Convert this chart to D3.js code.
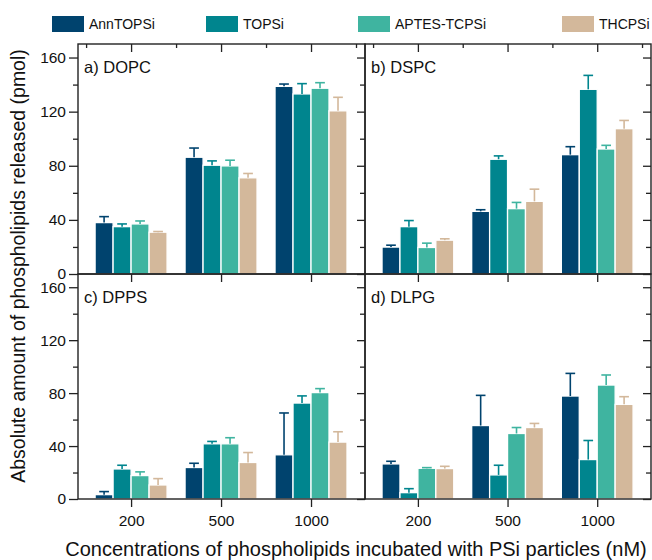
<!DOCTYPE html>
<html><head><meta charset="utf-8">
<script src="https://cdn.jsdelivr.net/npm/d3@7"></script>
<style>body{margin:0;background:#fff}svg{display:block}text{font-family:Arial,"Liberation Sans",sans-serif;fill:#111}</style>
</head><body><svg id="c" width="652" height="560"></svg>
<script>
const categories = ["200", "500", "1000"];
const seriesNames = ["AnnTOPSi", "TOPSi", "APTES-TCPSi", "THCPSi"];
const seriesColors = ["#00436e", "#00858e", "#3fb4a0", "#d3b89b"];
const panelTitles = ["a) DOPC", "b) DSPC", "c) DPPS", "d) DLPG"];
const yTickValues = [0, 40, 80, 120, 160];
const yMinorValues = [20, 60, 100, 140];

// means per series (rows) x concentration (cols)
const dopcMeans = [[38.0, 86.3, 138.7], [35.0, 80.4, 133.1], [37.0, 79.9, 137.3], [30.9, 71.1, 120.6]];
const dopcErrors = [[4.4, 6.8, 1.7], [2.0, 3.2, 7.6], [2.2, 4.2, 4.1], [0.5, 3.2, 10.0]];
const dspcMeans = [[19.9, 46.3, 88.2], [35.0, 84.8, 136.5], [19.6, 48.3, 92.4], [25.0, 53.7, 107.4]];
const dspcErrors = [[1.4, 1.2, 5.9], [4.5, 2.5, 10.3], [3.2, 4.6, 2.7], [1.0, 9.0, 6.1]];
const dppsMeans = [[3.3, 23.8, 33.4], [22.7, 41.7, 72.5], [17.7, 41.7, 80.4], [10.6, 27.6, 43.0]];
const dppsErrors = [[2.3, 3.2, 31.6], [2.8, 1.8, 5.4], [2.8, 4.6, 3.0], [4.8, 7.5, 7.8]];
const dlpgMeans = [[26.5, 55.5, 77.8], [4.8, 18.2, 29.8], [23.2, 49.5, 86.1], [23.0, 54.0, 71.5]];
const dlpgErrors = [[2.0, 22.8, 17.1], [3.0, 7.3, 14.4], [0.5, 4.5, 7.6], [1.7, 3.1, 5.8]];

const panelMeans = [dopcMeans, dspcMeans, dppsMeans, dlpgMeans];
const panelErrors = [dopcErrors, dspcErrors, dppsErrors, dlpgErrors];

const svg = d3.select("#c");
const L = 78, M = 365, R = 651, T = 44, MID = 274, B = 499;
const panels = [
  {x0: L, x1: M, y0: T, y1: MID, col: 0, row: 0},
  {x0: M, x1: R, y0: T, y1: MID, col: 1, row: 0},
  {x0: L, x1: M, y0: MID, y1: B, col: 0, row: 1},
  {x0: M, x1: R, y0: MID, y1: B, col: 1, row: 1}
];
const barW = 0.2;

panels.forEach((p, pi) => {
  const x = d3.scaleLinear().domain([0.41, 3.6]).range([p.x0, p.x1]);
  const y = d3.scaleLinear().domain([0, 170]).range([p.y1, p.y0]);
  const g = svg.append("g");
  const means = panelMeans[pi], errs = panelErrors[pi];
  const pxW = x(barW) - x(0);

  seriesNames.forEach((s, si) => {
    const col = seriesColors[si];
    categories.forEach((c, ci) => {
      const cx = x(ci + 1 + (si - 1.5) * barW);
      const v = means[si][ci], e = errs[si][ci];
      g.append("rect").attr("x", cx - pxW / 2).attr("width", pxW)
        .attr("y", y(v)).attr("height", y(0) - y(v))
        .attr("fill", col).attr("stroke", "#fff").attr("stroke-width", 1.3);
      g.append("line").attr("x1", cx).attr("x2", cx).attr("y1", y(v)).attr("y2", y(v + e))
        .attr("stroke", col).attr("stroke-width", 1.6);
      g.append("line").attr("x1", cx - pxW * 0.27).attr("x2", cx + pxW * 0.27)
        .attr("y1", y(v + e)).attr("y2", y(v + e))
        .attr("stroke", col).attr("stroke-width", 1.6);
    });
  });

  // frame
  g.append("rect").attr("x", p.x0).attr("y", p.y0).attr("width", p.x1 - p.x0).attr("height", p.y1 - p.y0)
    .attr("fill", "none").attr("stroke", "#222").attr("stroke-width", 1.4);

  // top ticks (inward)
  const topAx = d3.axisBottom(x).tickValues([1, 2, 3]).tickSize(8).tickFormat("");
  g.append("g").attr("transform", `translate(0,${p.y0})`).call(topAx)
    .call(a => a.select(".domain").remove());
  if (p.row === 0) {
    const topMinor = d3.axisBottom(x).tickValues([0.5, 1.5, 2.5, 3.5]).tickSize(4).tickFormat("");
    g.append("g").attr("transform", `translate(0,${p.y0})`).call(topMinor)
      .call(a => a.select(".domain").remove());
  }
  // bottom ticks (outward) + labels for lower row
  if (p.row === 1) {
    const botAx = d3.axisBottom(x).tickValues([1, 2, 3]).tickSize(8).tickPadding(8)
      .tickFormat((d) => categories[d - 1]);
    g.append("g").attr("transform", `translate(0,${p.y1})`).call(botAx)
      .call(a => a.select(".domain").remove())
      .call(a => a.selectAll("text").attr("font-size", 15.5).attr("fill", "#111")
        .style("font-family", "Arial, 'Liberation Sans', sans-serif"));
  }
  // left axis (outward with labels) for left column
  if (p.col === 0) {
    const la = d3.axisLeft(y).tickValues(yTickValues).tickSize(9).tickPadding(3);
    g.append("g").attr("transform", `translate(${p.x0},0)`).call(la)
      .call(a => a.select(".domain").remove())
      .call(a => a.selectAll("text").attr("font-size", 15.5).attr("fill", "#111")
        .style("font-family", "Arial, 'Liberation Sans', sans-serif"));
    const lm = d3.axisLeft(y).tickValues(yMinorValues).tickSize(5).tickFormat("");
    g.append("g").attr("transform", `translate(${p.x0},0)`).call(lm)
      .call(a => a.select(".domain").remove());
  }
  // right inward ticks
  const rMaj = d3.axisLeft(y).tickValues(yTickValues).tickSize(8).tickFormat("");
  const rMin = d3.axisLeft(y).tickValues(yMinorValues).tickSize(5).tickFormat("");
  g.append("g").attr("transform", `translate(${p.x1},0)`).call(rMaj).call(a => a.select(".domain").remove());
  g.append("g").attr("transform", `translate(${p.x1},0)`).call(rMin).call(a => a.select(".domain").remove());

  g.selectAll(".tick line").attr("stroke", "#222").attr("stroke-width", 1.3);

  g.append("text").attr("x", p.x0 + 6).attr("y", p.y0 + 29).attr("font-size", 16.5).text(panelTitles[pi]);
});

// legend
const legendX = [52, 206, 358, 562];
seriesNames.forEach((s, i) => {
  svg.append("rect").attr("x", legendX[i]).attr("y", 16).attr("width", 32).attr("height", 16)
    .attr("fill", seriesColors[i]);
  svg.append("text").attr("x", legendX[i] + 37).attr("y", 29).attr("font-size", 14).text(s);
});

// axis titles
svg.append("text").attr("transform", "translate(25,266) rotate(-90)").attr("text-anchor", "middle")
  .attr("font-size", 19.5).text("Absolute amount of phospholipids released (pmol)");
svg.append("text").attr("x", 356).attr("y", 556).attr("text-anchor", "middle")
  .attr("font-size", 20).text("Concentrations of phospholipids incubated with PSi particles (nM)");
</script></body></html>
